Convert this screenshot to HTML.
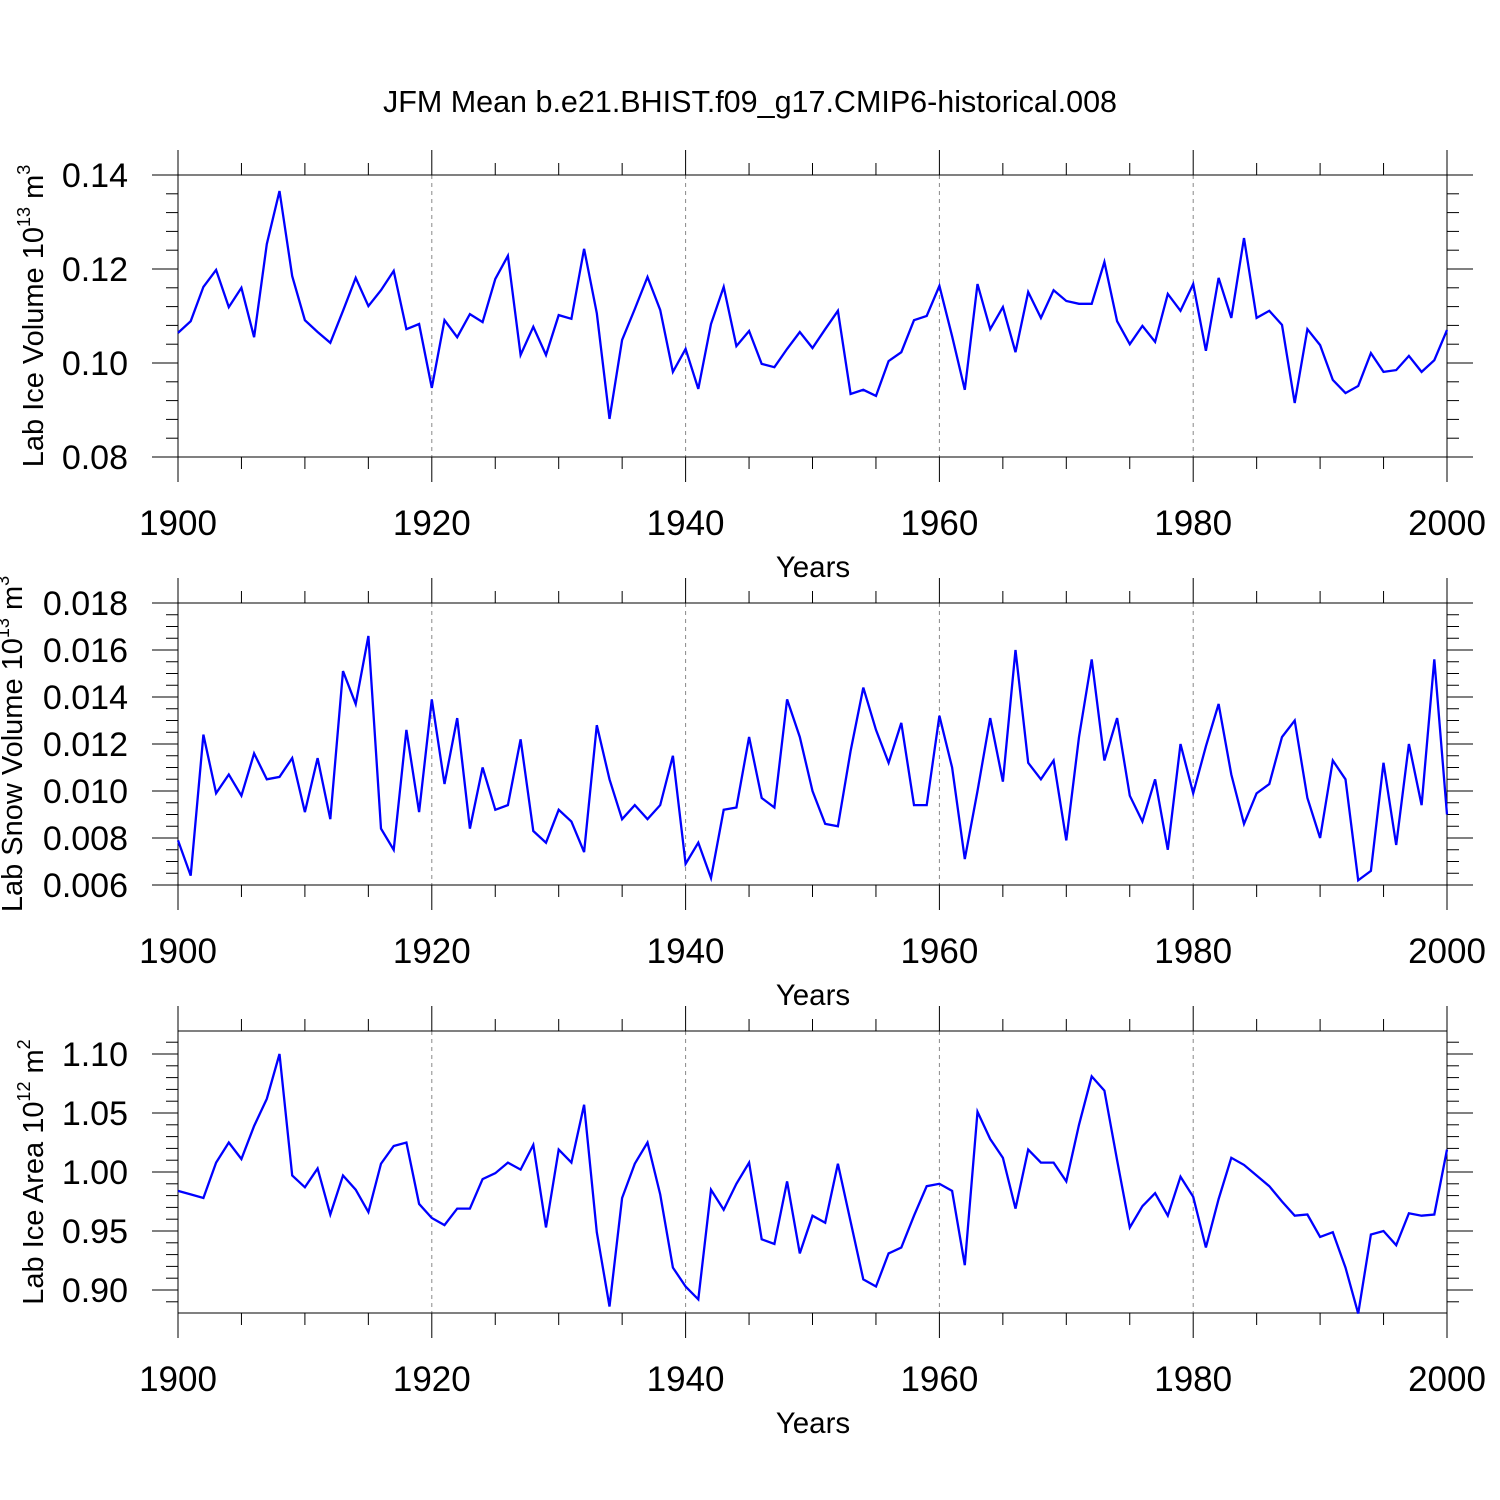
<!DOCTYPE html>
<html><head><meta charset="utf-8"><style>
html,body{margin:0;padding:0;background:#fff;}
svg{display:block;font-family:"Liberation Sans",sans-serif;}
</style></head><body>
<svg id="chart" width="1500" height="1500" xmlns="http://www.w3.org/2000/svg">
<rect width="1500" height="1500" fill="#fff"/>
<text x="750" y="112" text-anchor="middle" font-size="30.5">JFM Mean b.e21.BHIST.f09_g17.CMIP6-historical.008</text>
</svg>
<script>
const years = [];
for (let y = 1900; y <= 2000; y++) years.push(y);
const xTickLabels = ["1900","1920","1940","1960","1980","2000"];
const iceVolume = [0.1064,0.1089,0.1162,0.1198,0.1119,0.1160,0.1055,0.1253,0.1366,0.1185,0.1091,0.1066,0.1043,0.1111,0.1181,0.1121,0.1155,0.1196,0.1072,0.1083,0.0947,0.1091,0.1055,0.1104,0.1087,0.1179,0.1228,0.1017,0.1077,0.1017,0.1102,0.1094,0.1243,0.1106,0.0881,0.1049,0.1115,0.1183,0.1113,0.0981,0.1030,0.0945,0.1083,0.1162,0.1036,0.1068,0.0998,0.0991,0.1030,0.1066,0.1032,0.1072,0.1111,0.0934,0.0943,0.0930,0.1004,0.1023,0.1091,0.1100,0.1164,0.1057,0.0943,0.1168,0.1072,0.1119,0.1023,0.1151,0.1096,0.1155,0.1132,0.1126,0.1126,0.1215,0.1089,0.1040,0.1079,0.1045,0.1147,0.1111,0.1168,0.1026,0.1181,0.1096,0.1266,0.1096,0.1111,0.1081,0.0915,0.1072,0.1038,0.0964,0.0936,0.0951,0.1021,0.0981,0.0985,0.1015,0.0981,0.1006,0.1070];
const snowVolume = [0.0079,0.0064,0.0124,0.0099,0.0107,0.0098,0.0116,0.0105,0.0106,0.0114,0.0091,0.0114,0.0088,0.0151,0.0137,0.0166,0.0084,0.0075,0.0126,0.0091,0.0139,0.0103,0.0131,0.0084,0.0110,0.0092,0.0094,0.0122,0.0083,0.0078,0.0092,0.0087,0.0074,0.0128,0.0105,0.0088,0.0094,0.0088,0.0094,0.0115,0.0069,0.0078,0.0063,0.0092,0.0093,0.0123,0.0097,0.0093,0.0139,0.0123,0.0100,0.0086,0.0085,0.0117,0.0144,0.0126,0.0112,0.0129,0.0094,0.0094,0.0132,0.0110,0.0071,0.0100,0.0131,0.0104,0.0160,0.0112,0.0105,0.0113,0.0079,0.0123,0.0156,0.0113,0.0131,0.0098,0.0087,0.0105,0.0075,0.0120,0.0099,0.0119,0.0137,0.0107,0.0086,0.0099,0.0103,0.0123,0.0130,0.0097,0.0080,0.0113,0.0105,0.0062,0.0066,0.0112,0.0077,0.0120,0.0094,0.0156,0.0090];
const iceArea = [0.984,0.981,0.978,1.008,1.025,1.011,1.039,1.062,1.100,0.997,0.987,1.003,0.964,0.997,0.985,0.966,1.007,1.022,1.025,0.973,0.961,0.955,0.969,0.969,0.994,0.999,1.008,1.002,1.023,0.953,1.019,1.008,1.057,0.949,0.886,0.978,1.007,1.025,0.981,0.919,0.903,0.892,0.985,0.968,0.990,1.008,0.943,0.939,0.992,0.931,0.963,0.957,1.007,0.958,0.909,0.903,0.931,0.936,0.963,0.988,0.990,0.984,0.921,1.051,1.028,1.012,0.969,1.019,1.008,1.008,0.992,1.040,1.081,1.069,1.010,0.953,0.971,0.982,0.963,0.996,0.979,0.936,0.977,1.012,1.006,0.997,0.988,0.975,0.963,0.964,0.945,0.949,0.919,0.880,0.947,0.950,0.938,0.965,0.963,0.964,1.019];
const yTicks1 = ["0.08","0.10","0.12","0.14"];
const yTicks2 = ["0.006","0.008","0.010","0.012","0.014","0.016","0.018"];
const yTicks3 = ["0.90","0.95","1.00","1.05","1.10"];

const NS = "http://www.w3.org/2000/svg";
const svg = document.getElementById('chart');
const X0 = 178, X1 = 1447;
function xs(yr){ return X0 + (yr-1900)/100*(X1-X0); }
function mk(tag, attrs, parent){
  const e = document.createElementNS(NS, tag);
  for (const k in attrs) e.setAttribute(k, attrs[k]);
  (parent||svg).appendChild(e); return e;
}

function panel(cfg){
  const g = mk('g', {});
  
  
  const top = cfg.top, bot = cfg.bot;
  const ys = v => bot - (v-cfg.ymin)/(cfg.ymax-cfg.ymin)*(bot-top);
  [1920,1940,1960,1980].forEach(yr=>{
    const l = mk('line',{x1:xs(yr),x2:xs(yr),y1:top,y2:bot,stroke:'#888','stroke-width':1,'stroke-dasharray':'4,4'},g);
    
    
  });
  const fr = mk('rect',{x:X0,y:top,width:X1-X0,height:bot-top,fill:'none',stroke:'#000','stroke-width':1},g);
  
  
  for (let yr=1900; yr<=2000; yr+=5){
    const len = yr%20===0 ? 25 : 12;
    mk('line',{x1:xs(yr),x2:xs(yr),y1:bot,y2:bot+len,stroke:'#000'},g);
    mk('line',{x1:xs(yr),x2:xs(yr),y1:top,y2:top-len,stroke:'#000'},g);
  }
  xTickLabels.forEach(s=>{
    const t = mk('text',{x:xs(+s),y:bot+78,'text-anchor':'middle','font-size':35},g);
    t.textContent = s;
    
    
  });
  const xt = mk('text',{x:813,y:bot+120,'text-anchor':'middle','font-size':29.5},g);
  xt.textContent = 'Years';
  
  
  const start = Math.ceil(cfg.ymin/cfg.minor - 1e-6);
  for (let i=start; i*cfg.minor <= cfg.ymax+1e-9; i++){
    const v = i*cfg.minor, y = ys(v);
    mk('line',{x1:X0,x2:X0-12,y1:y,y2:y,stroke:'#000'},g);
    mk('line',{x1:X1,x2:X1+12,y1:y,y2:y,stroke:'#000'},g);
  }
  cfg.ticks.forEach(s=>{
    const y = ys(+s);
    mk('line',{x1:X0,x2:X0-26,y1:y,y2:y,stroke:'#000'},g);
    mk('line',{x1:X1,x2:X1+26,y1:y,y2:y,stroke:'#000'},g);
    const t = mk('text',{x:128,y:y+12,'text-anchor':'end','font-size':34},g);
    t.textContent = s;
    
    
  });
  const cy = (top+bot)/2 + cfg.titleDy;
  const yt = mk('text',{x:0,y:0,'text-anchor':'middle','font-size':29,transform:`translate(${cfg.titleX},${cy}) rotate(-90)`},g);
  
  
  const parts = [[cfg.title+' 10',0],[cfg.exp1,1],[' m',0],[cfg.exp2,1]];
  parts.forEach(p=>{
    const ts = mk('tspan',{},yt);
    if (p[1]){ ts.setAttribute('font-size','18'); ts.setAttribute('dy','-13'); }
    else if (ts.previousSibling && ts.previousSibling.getAttribute('dy')==='-13'){ ts.setAttribute('dy','13'); }
    ts.textContent = p[0];
  });
  const pts = cfg.data.map((v,i)=>xs(years[i]).toFixed(1)+','+ys(v).toFixed(1)).join(' ');
  const pl = mk('polyline',{points:pts,fill:'none',stroke:'#0000ff','stroke-width':2.3,'stroke-linejoin':'miter'},g);
  
  
}

panel({name:'ice-volume-panel',top:175,bot:457,ymin:0.08,ymax:0.14,minor:0.004,ticks:yTicks1,data:iceVolume,title:'Lab Ice Volume',exp1:'13',exp2:'3',titleX:43,titleDy:0});
panel({name:'snow-volume-panel',top:603,bot:885,ymin:0.006,ymax:0.018,minor:0.0005,ticks:yTicks2,data:snowVolume,title:'Lab Snow Volume',exp1:'13',exp2:'3',titleX:22,titleDy:0});
panel({name:'ice-area-panel',top:1031,bot:1313,ymin:0.8805,ymax:1.1195,minor:0.01,ticks:yTicks3,data:iceArea,title:'Lab Ice Area',exp1:'12',exp2:'2',titleX:43,titleDy:0});
</script>
</body></html>
